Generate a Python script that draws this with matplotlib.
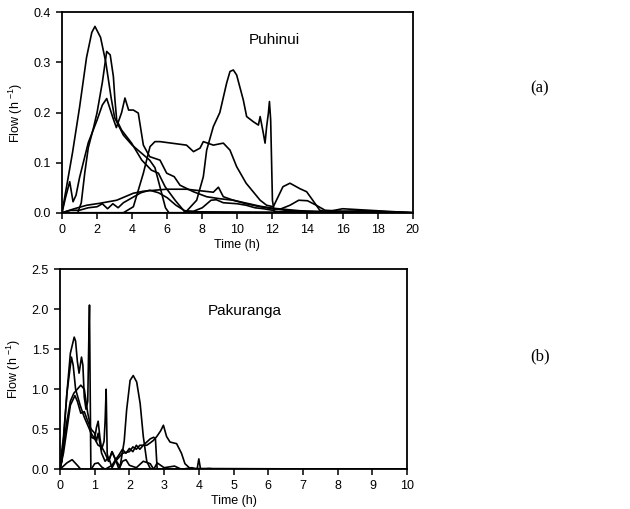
import numpy as np
import matplotlib
matplotlib.use('Agg')
import matplotlib.pyplot as plt

plt.rcParams['font.family'] = ['Liberation Sans', 'DejaVu Sans']
plt.rcParams['mathtext.fontset'] = 'custom'
plt.rcParams['mathtext.rm'] = 'Liberation Sans'

# ---- (a) Puhinui: hydrographs ----
pa_x = [0, 0.3, 0.6, 1.0, 1.4, 1.7, 1.88, 2.2, 2.5, 2.8, 3.0, 3.5, 4.0, 4.5, 5.0, 5.3, 5.6, 5.9, 6.1, 20]
pa_y = [0.0, 0.06, 0.12, 0.21, 0.31, 0.36, 0.372, 0.35, 0.30, 0.23, 0.19, 0.155, 0.135, 0.12, 0.105, 0.09, 0.05, 0.01, 0.0, 0.0]

pb_x = [0, 0.9, 1.1, 1.3, 1.5, 1.8, 2.0, 2.3, 2.55, 2.75, 2.93, 3.02, 3.12, 3.4, 3.97, 4.55, 5.1, 5.5, 5.88, 6.45, 7.0, 20]
pb_y = [0.0, 0.0, 0.02, 0.08, 0.13, 0.17, 0.20, 0.26, 0.322, 0.315, 0.272, 0.225, 0.185, 0.165, 0.139, 0.105, 0.085, 0.079, 0.052, 0.025, 0.002, 0.0]

pc_x = [0, 0.2, 0.44, 0.63, 0.8, 1.0, 1.5, 2.0, 2.3, 2.55, 2.9, 3.1, 3.4, 3.59, 3.8, 4.07, 4.35, 4.64, 5.0, 5.59, 5.97, 6.4, 6.73,
        7.49, 8.25, 9.0, 9.77, 10.5, 11.3, 12.0, 13.0, 14.0, 20]
pc_y = [0.0, 0.03, 0.062, 0.022, 0.035, 0.07, 0.14, 0.185, 0.215, 0.228, 0.19, 0.17, 0.20, 0.229, 0.205, 0.205, 0.199, 0.135, 0.112, 0.105, 0.079, 0.072, 0.055,
        0.042, 0.032, 0.028, 0.025, 0.018, 0.012, 0.008, 0.004, 0.002, 0.0]

pd_x = [0, 0.7, 1.41, 2.17, 3.12, 4.07, 4.64, 5.97, 7.1, 7.87, 8.63, 8.92, 9.2, 9.77, 10.53, 11.3, 12.05, 13.57, 15.5, 17.0, 18.5, 20]
pd_y = [0.0, 0.008, 0.015, 0.019, 0.025, 0.039, 0.043, 0.047, 0.047, 0.044, 0.041, 0.051, 0.032, 0.025, 0.019, 0.013, 0.009, 0.004, 0.002, 0.004, 0.002, 0.0]

pe_x = [0, 6.9, 7.1, 7.68, 8.06, 8.25, 8.63, 9.0, 9.39, 9.58, 9.77, 9.96, 10.34, 10.53, 10.9, 11.2, 11.3, 11.48, 11.58, 11.67, 11.77,
        11.83, 11.9, 12.0, 12.1, 20]
pe_y = [0.0, 0.0, 0.003, 0.025, 0.072, 0.125, 0.172, 0.20, 0.259, 0.282, 0.285, 0.275, 0.225, 0.192, 0.182, 0.175, 0.192, 0.159, 0.139, 0.172, 0.199,
        0.222, 0.185, 0.025, 0.002, 0.0]

pf_x = [0, 3.5, 4.07, 4.64, 5.02, 5.3, 5.59, 7.1, 7.5, 7.87, 8.06, 8.63, 9.2, 9.58, 9.96, 10.5, 11.3, 11.67, 12.05, 12.6, 13.0, 13.57,
        13.95, 14.3, 14.7, 15.1, 16.0, 20]
pf_y = [0.0, 0.0, 0.012, 0.079, 0.132, 0.142, 0.142, 0.135, 0.122, 0.129, 0.142, 0.135, 0.139, 0.125, 0.092, 0.059, 0.025, 0.015, 0.012, 0.052, 0.059, 0.048,
        0.042, 0.025, 0.005, 0.002, 0.008, 0.0]

pg_x = [0, 0.5, 1.0, 1.5, 2.0, 2.3, 2.6, 2.9, 3.2, 3.5, 4.0, 4.5, 5.0, 5.5, 6.0, 6.5, 7.0, 7.5, 8.0, 8.5, 8.8, 9.2, 10.0, 10.5,
        11.0, 11.5, 12.0, 12.5, 13.0, 13.5, 14.0, 14.5, 15.0, 16.0, 17.0, 18.0, 19.0, 20]
pg_y = [0.0, 0.005, 0.005, 0.01, 0.012, 0.018, 0.008, 0.018, 0.01, 0.02, 0.03, 0.04, 0.045, 0.04, 0.03, 0.015, 0.004, 0.003, 0.01, 0.025, 0.026, 0.02, 0.018, 0.015,
        0.01, 0.008, 0.005, 0.008, 0.015, 0.025, 0.024, 0.015, 0.005, 0.003, 0.002, 0.001, 0.001, 0.0]

top_series = [(pa_x, pa_y), (pb_x, pb_y), (pc_x, pc_y), (pd_x, pd_y), (pe_x, pe_y), (pf_x, pf_y), (pg_x, pg_y)]

# ---- (b) Pakuranga ----
q1_x = [0, 0.1, 0.2, 0.3, 0.41, 0.45, 0.5, 0.55, 0.62, 0.66, 0.7, 0.75, 0.8, 0.83, 0.85, 0.87, 0.89, 10]
q1_y = [0.05, 0.4, 0.95, 1.45, 1.65, 1.6, 1.35, 1.2, 1.4, 1.3, 0.9, 0.75, 0.85, 1.6, 2.05, 1.0, 0.0, 0.0]

q2_x = [0, 0.05, 0.1, 0.2, 0.33, 0.38, 0.45, 0.58, 0.7, 0.8, 0.9, 1.0, 1.05, 1.1, 1.15, 1.2, 1.27, 1.3, 1.33, 1.36, 1.4, 1.5,
        1.6, 1.7, 1.8, 1.9, 2.0, 2.1, 2.2, 2.3, 2.4, 2.5, 2.6, 2.7, 2.75, 2.78, 2.8, 10]
q2_y = [0.0, 0.1, 0.35, 0.95, 1.4, 1.3, 1.0, 0.8, 0.65, 0.55, 0.45, 0.38, 0.52, 0.6, 0.4, 0.25, 0.35, 0.6, 1.0, 0.2, 0.1, 0.22,
        0.12, 0.18, 0.25, 0.2, 0.26, 0.22, 0.3, 0.25, 0.3, 0.34, 0.38, 0.4, 0.38, 0.15, 0.0, 0.0]

q3_x = [0, 0.05, 0.1, 0.2, 0.3, 0.4, 0.5, 0.6, 0.7, 0.75, 0.8, 0.85, 0.9, 1.0, 1.1, 1.2, 1.3, 1.4, 1.5, 1.6, 1.73, 1.85, 1.92,
        2.02, 2.11, 2.21, 2.31, 2.4, 2.5, 2.6, 2.7, 10]
q3_y = [0.0, 0.1, 0.3, 0.6, 0.85, 0.95, 1.0, 1.05, 1.0, 0.85, 0.7, 0.6, 0.4, 0.38, 0.3, 0.28, 0.2, 0.1, 0.22, 0.12, 0.03, 0.35, 0.74,
        1.11, 1.17, 1.09, 0.82, 0.41, 0.1, 0.01, 0.0, 0.0]

q4_x = [0, 0.1, 0.2, 0.3, 0.43, 0.5, 0.6, 0.7, 0.8, 0.9, 1.0, 1.05, 1.1, 1.2, 1.3, 1.4, 1.5, 1.6, 1.8, 2.0, 2.1, 2.2, 2.3, 2.5,
        2.6, 2.69, 2.79, 2.9, 2.98, 3.07, 3.17, 3.36, 3.5, 3.6, 3.75, 10]
q4_y = [0.0, 0.2, 0.5, 0.8, 0.92, 0.85, 0.7, 0.72, 0.6, 0.5, 0.45, 0.35, 0.45, 0.2, 0.1, 0.15, 0.02, 0.1, 0.2, 0.22, 0.28, 0.25, 0.3, 0.3,
        0.33, 0.36, 0.41, 0.48, 0.55, 0.41, 0.34, 0.32, 0.2, 0.07, 0.01, 0.0]

q5_x = [0, 0.2, 0.35, 0.5, 0.6, 0.9, 1.0, 1.1, 1.2, 1.3, 1.5, 1.6, 1.7, 1.8, 1.9, 2.0, 2.2, 2.4, 2.6, 2.7, 2.8, 3.0, 3.3, 3.5,
        3.8, 3.95, 4.0, 4.05, 4.3, 4.5, 5.0, 6.0, 7.0, 8.0, 9.0, 10.0]
q5_y = [0.0, 0.08, 0.12, 0.05, 0.0, 0.0, 0.07, 0.08, 0.03, 0.0, 0.05, 0.12, 0.0, 0.1, 0.12, 0.05, 0.02, 0.1, 0.07, 0.0, 0.08, 0.02, 0.04, 0.0,
        0.02, 0.0, 0.13, 0.0, 0.01, 0.0, 0.005, 0.0, 0.005, 0.0, 0.005, 0.0]

bottom_series = [(q1_x, q1_y), (q2_x, q2_y), (q3_x, q3_y), (q4_x, q4_y), (q5_x, q5_y)]

fig = plt.figure(figsize=(6.3, 5.09), dpi=100)
ax1 = fig.add_axes([0.0984, 0.582, 0.5567, 0.3937])
ax2 = fig.add_axes([0.0952, 0.078, 0.551, 0.3935])


def style(ax):
    for sp in ax.spines.values():
        sp.set_linewidth(1.3)
    ax.tick_params(direction='out', length=4, width=1.1, labelsize=9, pad=4)
    ax.set_xlabel('Time (h)', fontsize=9, labelpad=2)
    ax.set_ylabel(r'Flow (h $^{-1}$)', fontsize=9, labelpad=6)


for xs, ys in top_series:
    ax1.plot(xs, ys, color='black', lw=1.2)
ax1.set_xlim(0, 20)
ax1.set_ylim(0, 0.4)
ax1.set_xticks(np.arange(0, 21, 2))
ax1.set_yticks(np.arange(0, 0.41, 0.1))
ax1.yaxis.set_major_formatter(matplotlib.ticker.FormatStrFormatter('%.1f'))
ax1.text(12.1, 0.345, 'Puhinui', fontsize=11, ha='center', va='center')
style(ax1)

for xs, ys in bottom_series:
    ax2.plot(xs, ys, color='black', lw=1.2)
ax2.set_xlim(0, 10)
ax2.set_ylim(0, 2.5)
ax2.set_xticks(np.arange(0, 11, 1))
ax2.set_yticks(np.arange(0, 2.51, 0.5))
ax2.yaxis.set_major_formatter(matplotlib.ticker.FormatStrFormatter('%.1f'))
ax2.text(5.33, 1.98, 'Pakuranga', fontsize=11, ha='center', va='center')
style(ax2)

fig.text(0.857, 0.827, '(a)', fontsize=12, family='Liberation Serif', ha='center', va='center')
fig.text(0.857, 0.30, '(b)', fontsize=12, family='Liberation Serif', ha='center', va='center')

plt.savefig('out.png', dpi=100)
